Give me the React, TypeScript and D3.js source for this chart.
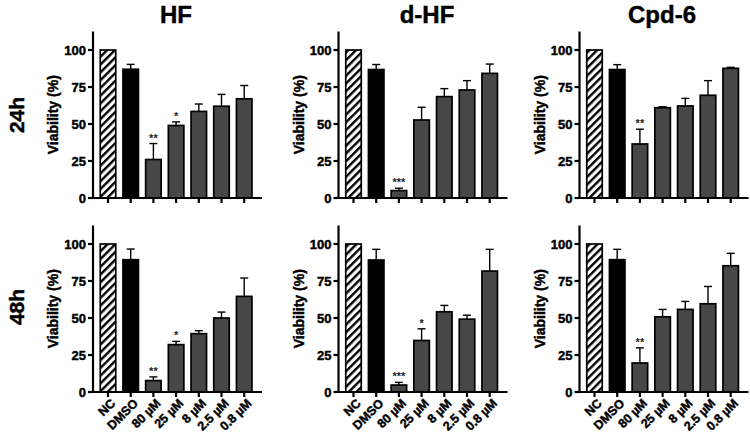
import React from "react";
import * as d3 from "d3";

// Treatment groups along each x axis
const categories = ["NC", "DMSO", "80 µM", "25 µM", "8 µM", "2.5 µM", "0.8 µM"];
const compounds = ["HF", "d-HF", "Cpd-6"];
const timepoints = ["24h", "48h"];
const yTicks = [0, 25, 50, 75, 100];

// Mean viability (%) and SD, 24 h
const hf24Mean = [100, 87, 26, 49, 58.5, 62, 67];
const hf24Err = [0, 3.3, 10.8, 2.4, 5, 8, 9];
const hf24Sig = ["", "", "**", "*", "", "", ""];

const dhf24Mean = [100, 86.8, 5, 52.7, 68.5, 73, 84.2];
const dhf24Err = [0, 3.4, 1.6, 8.6, 5.4, 6.3, 6.3];
const dhf24Sig = ["", "", "***", "", "", "", ""];

const cpd24Mean = [100, 86.8, 36.5, 61, 62.2, 69.4, 87.6];
const cpd24Err = [0, 3.3, 10, 0.7, 5.1, 9.9, 0.7];
const cpd24Sig = ["", "", "**", "", "", "", ""];

// Mean viability (%) and SD, 48 h
const hf48Mean = [100, 89.4, 7.7, 32, 39.4, 50, 64.6];
const hf48Err = [0, 7.2, 2.5, 2.2, 2, 4, 12.4];
const hf48Sig = ["", "", "**", "*", "", "", ""];

const dhf48Mean = [100, 89.2, 4.7, 34.8, 54.2, 49.2, 81.7];
const dhf48Err = [0, 7.2, 1.8, 7.9, 4.3, 2.7, 14.7];
const dhf48Sig = ["", "", "***", "*", "", "", ""];

const cpd48Mean = [100, 89.4, 19.6, 50.8, 55.8, 59.6, 85.3];
const cpd48Err = [0, 7, 10.2, 5, 5.4, 11.7, 8.4];
const cpd48Sig = ["", "", "**", "", "", "", ""];

const panels = [
  [
    { mean: hf24Mean, err: hf24Err, sig: hf24Sig },
    { mean: dhf24Mean, err: dhf24Err, sig: dhf24Sig },
    { mean: cpd24Mean, err: cpd24Err, sig: cpd24Sig },
  ],
  [
    { mean: hf48Mean, err: hf48Err, sig: hf48Sig },
    { mean: dhf48Mean, err: dhf48Err, sig: dhf48Sig },
    { mean: cpd48Mean, err: cpd48Err, sig: cpd48Sig },
  ],
];

const W = 750;
const H = 441;
const FONT = "'Liberation Sans', Arial, Helvetica, sans-serif";
const colAxisX = [93, 338.5, 579.5];
const titleX = [176, 427, 662];
const rowZeroY = [198, 392];
const axisLen = 169;
const plotH = 148;
const barW = 15.5;
const barFill = "#474747";

// heavy bold text used for every label
const txt = {
  fontFamily: FONT,
  fontWeight: "bold" as const,
  fill: "#000",
  stroke: "#000",
  strokeWidth: 0.45,
};

function Panel({ row, col }: { row: number; col: number }) {
  const data = panels[row][col];
  const x0 = colAxisX[col];
  const y0 = rowZeroY[row];
  const x = d3
    .scalePoint<string>()
    .domain(categories)
    .range([x0 + 15, x0 + 15 + 6 * 22.7]);
  const y = d3.scaleLinear().domain([0, 100]).range([y0, y0 - plotH]);
  const axisTop = y(112.5);

  return (
    <g>
      {/* bars */}
      {categories.map((c, i) => {
        const cx = x(c)!;
        const top = y(data.mean[i]);
        const fill = i === 0 ? "url(#hatch)" : i === 1 ? "#000" : barFill;
        return (
          <rect
            key={"b" + i}
            x={cx - barW / 2}
            y={top}
            width={barW}
            height={y0 - top}
            fill={fill}
            stroke="#000"
            strokeWidth={1.7}
          />
        );
      })}
      {/* upper error bars */}
      {categories.map((c, i) => {
        if (!data.err[i]) return null;
        const cx = x(c)!;
        const top = y(data.mean[i]);
        const et = y(data.mean[i] + data.err[i]);
        return (
          <g key={"e" + i} stroke="#000" strokeWidth={1.4}>
            <line x1={cx} x2={cx} y1={top} y2={et} />
            <line x1={cx - 4} x2={cx + 4} y1={et} y2={et} />
          </g>
        );
      })}
      {/* significance marks */}
      {categories.map((c, i) => {
        if (!data.sig[i]) return null;
        const cx = x(c)!;
        const et = y(data.mean[i] + data.err[i]);
        return (
          <text
            key={"s" + i}
            x={cx}
            y={et - 2}
            textAnchor="middle"
            fontFamily={FONT}
            fontWeight="bold"
            fontSize={11}
            fill="#222"
          >
            {data.sig[i]}
          </text>
        );
      })}
      {/* y axis */}
      <line x1={x0} x2={x0} y1={y0 + 1} y2={axisTop} stroke="#000" strokeWidth={2.2} />
      {yTicks.map((t) => (
        <g key={"yt" + t}>
          <line x1={x0 - 5} x2={x0} y1={y(t)} y2={y(t)} stroke="#000" strokeWidth={2.2} />
          <text x={x0 - 7} y={y(t)} dy="0.36em" textAnchor="end" fontSize={13} {...txt}>
            {t}
          </text>
        </g>
      ))}
      <text
        transform={`translate(${x0 - 35},${(y0 + axisTop) / 2}) rotate(-90)`}
        textAnchor="middle"
        fontSize={14}
        {...txt}
      >
        Viability (%)
      </text>
      {/* x axis */}
      <line x1={x0 - 1} x2={x0 + axisLen} y1={y0} y2={y0} stroke="#000" strokeWidth={2.2} />
      {categories.map((c) => (
        <line
          key={"xt" + c}
          x1={x(c)!}
          x2={x(c)!}
          y1={y0}
          y2={y0 + 5}
          stroke="#000"
          strokeWidth={2.2}
        />
      ))}
      {row === 1 &&
        categories.map((c) => (
          <g key={"xl" + c} transform={`translate(${x(c)! + 5},${y0 + 9})`}>
            <text transform="rotate(-45)" textAnchor="end" dy="0.35em" fontSize={12.5} {...txt}>
              {c}
            </text>
          </g>
        ))}
      {row === 0 && (
        <text x={titleX[col]} y={23} textAnchor="middle" fontSize={24} {...txt}>
          {compounds[col]}
        </text>
      )}
    </g>
  );
}

export default function App() {
  return (
    <svg
      width={W}
      height={H}
      viewBox={`0 0 ${W} ${H}`}
      style={{ display: "block", position: "absolute", left: 0, top: 0, background: "#fff" }}
    >
      <defs>
        <pattern
          id="hatch"
          patternUnits="userSpaceOnUse"
          width={5.5}
          height={5.5}
          patternTransform="rotate(45)"
        >
          <rect width={5.5} height={5.5} fill="#fff" />
          <rect width={2.4} height={5.5} fill="#000" />
        </pattern>
      </defs>
      <rect width={W} height={H} fill="#fff" />
      {timepoints.map((t, r) => (
        <text
          key={t}
          transform={`translate(24,${r === 0 ? 115 : 307}) rotate(-90)`}
          textAnchor="middle"
          fontSize={21}
          {...txt}
        >
          {t}
        </text>
      ))}
      {timepoints.map((_, r) =>
        compounds.map((_, c) => <Panel key={r + "-" + c} row={r} col={c} />)
      )}
    </svg>
  );
}
